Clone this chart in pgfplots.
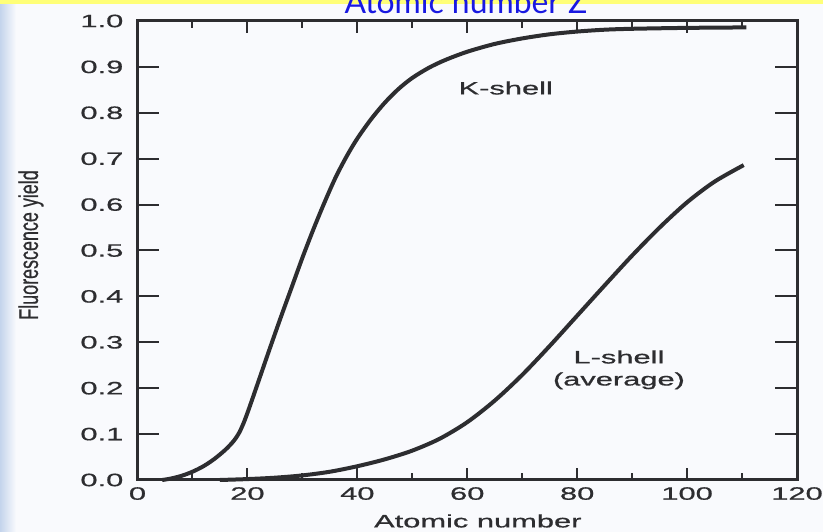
\documentclass[border=0pt]{standalone}
\usepackage{fontspec}
\setmainfont{Liberation Sans}
\newfontfamily\inkfont{Liberation Sans}[FakeBold=0.6]
\newfontfamily\titlefont{Lato}
\usepackage{graphicx}
\usepackage{pgfplots}
\pgfplotsset{compat=1.18}

\definecolor{ink}{RGB}{45,45,48}
\definecolor{paper}{RGB}{249,250,253}
\definecolor{edgeblue}{RGB}{196,212,236}
\definecolor{titleblue}{RGB}{25,25,225}
\definecolor{stripyellow}{RGB}{255,255,120}

% glyphs are set wide, as in the printed figure
\newcommand\wide[1]{\scalebox{1.72}[1]{#1}}
\newcommand\labelfont{\inkfont\fontsize{18}{20}\selectfont}

\pgfplotsset{
  yieldframe/.style={
    at={(137.5bp,52bp)}, anchor=south west,
    scale only axis, width=659.5bp, height=459bp,
    xmin=0, xmax=120, ymin=0, ymax=1,
    axis line style={ink, line width=3bp},
    tick align=inside,
    tick style={ink, line width=2bp},
    clip=false,
  }
}

\begin{document}
\begin{tikzpicture}[x=1bp,y=1bp]
\path[use as bounding box] (0,0) rectangle (823,532);
\fill[paper] (0,0) rectangle (823,532);
\shade[left color=edgeblue, right color=paper] (0,0) rectangle (16,532);
\fill[stripyellow] (0,528) rectangle (823,532);
\node[anchor=base, text=titleblue, inner sep=0pt,
      font=\titlefont\fontsize{32}{34}\selectfont] at (466,518) {Atomic number Z};

% curves and the x axis
\begin{axis}[yieldframe,
  xtick={0,20,...,120}, minor xtick={10,30,...,110},
  xticklabels={\wide{0},\wide{20},\wide{40},\wide{60},\wide{80},\wide{100},\wide{120}},
  major tick length=12bp, minor tick length=7bp,
  ytick=\empty,
  xticklabel style={inner sep=0pt, yshift=-7bp, font=\labelfont, text=ink},
  xlabel={\wide{Atomic number}},
  xlabel style={at={(axis description cs:0.516,-0.0893)}, anchor=center, inner sep=0pt,
                font=\labelfont, text=ink},
  ylabel={\scalebox{1}[1.5]{Fluorescence yield}},
  ylabel style={at={(axis description cs:-0.1615,0.512)}, anchor=center, inner sep=0pt,
                font=\labelfont, text=ink},
]
% K-shell
\addplot[ink, line width=4bp, smooth, tension=0.5] coordinates {
  (4.5,0) (6,0.003) (8,0.009) (10,0.018) (12,0.030) (14,0.046)
  (16,0.066) (17.5,0.085) (18.5,0.103) (19.3,0.124) (20,0.146)
  (21,0.180) (22.5,0.232) (24,0.284) (26,0.352) (28,0.418) (30,0.484)
  (32,0.546) (34,0.604) (36,0.658) (38,0.704) (40,0.744) (42.5,0.786)
  (45,0.822) (47.5,0.852) (50,0.876) (53,0.898) (56,0.915) (60,0.933)
  (65,0.950) (70,0.962) (75,0.971) (80,0.977) (85,0.981) (90,0.983)
  (100,0.985) (110.8,0.986)
};
% L-shell (average)
\addplot[ink, line width=4bp, smooth, tension=0.5] coordinates {
  (15,0) (20,0.002) (25,0.005) (30,0.010) (35,0.018) (40,0.030)
  (45,0.045) (50,0.064) (55,0.090) (60,0.126) (65,0.173) (70,0.229)
  (75,0.292) (80,0.358) (85,0.424) (90,0.489) (95,0.550) (100,0.605)
  (105,0.650) (110.3,0.686)
};
\node[text=ink, font=\labelfont] at (axis cs:67,0.854) {\wide{K-shell}};
\node[text=ink, font=\labelfont] at (axis cs:87.6,0.268) {\wide{L-shell}};
\node[text=ink, font=\labelfont] at (axis cs:87.6,0.216) {\wide{(average)}};
\end{axis}

% y axis ticks and labels
\begin{axis}[yieldframe,
  xtick=\empty,
  ytick={0,0.1,0.2,0.3,0.4,0.5,0.6,0.7,0.8,0.9,1.0},
  yticklabels={\wide{0.0},\wide{0.1},\wide{0.2},\wide{0.3},\wide{0.4},\wide{0.5},
               \wide{0.6},\wide{0.7},\wide{0.8},\wide{0.9},\wide{1.0}},
  major tick length=22bp,
  yticklabel style={inner sep=0pt, anchor=east, xshift=-14bp,
                    font=\labelfont, text=ink},
]
\end{axis}
\end{tikzpicture}
\end{document}
